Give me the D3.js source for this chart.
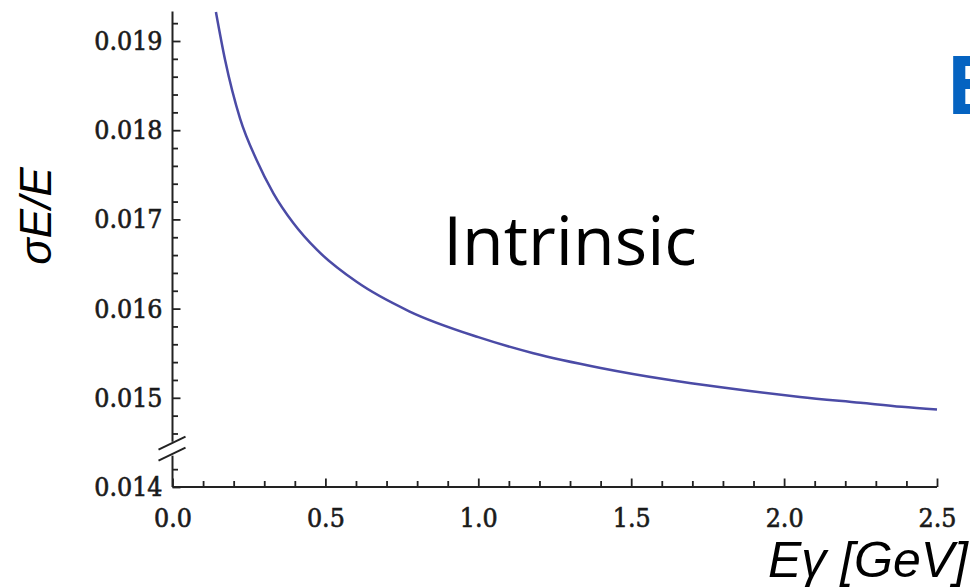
<!DOCTYPE html>
<html>
<head>
<meta charset="utf-8">
<script src="https://cdn.jsdelivr.net/npm/d3@7"></script>
<style>
  html, body { margin: 0; padding: 0; background: #fff; }
  svg { display: block; }
</style>
</head>
<body>
<div id="chart"></div>
<script>
// values
const energy = [0.142, 0.172, 0.221, 0.275, 0.330, 0.395, 0.472, 0.602, 0.774, 1.0, 1.18, 1.4, 1.616, 1.8, 2.052, 2.25, 2.385, 2.5];
const resolution = [0.019326, 0.018787, 0.018130, 0.017666, 0.017293, 0.016960, 0.016660, 0.016300, 0.015970, 0.015680, 0.015500, 0.015335, 0.015205, 0.015115, 0.015010, 0.014945, 0.014900, 0.014870];

const xTicks = [0.0, 0.5, 1.0, 1.5, 2.0, 2.5];
const yTicks = [0.014, 0.015, 0.016, 0.017, 0.018, 0.019];
const xLabel = "Eγ [GeV]";
const yLabel = "σE/E";
const note = "Intrinsic";
const yTop = 0.01933;
const yBreak = 0.01443;

const width = 970;
const height = 587;

const svg = d3.select("#chart")
  .append("svg")
  .attr("width", width)
  .attr("height", height);

const x = d3.scaleLinear().domain([0, 2.5]).range([172.5, 937]);
const y = d3.scaleLinear().domain([0.014, 0.019]).range([487, 41]);

const axisColor = "#222";
const tickFont = "'DejaVu Serif Condensed', 'DejaVu Serif', serif";

// minor ticks every 0.1 / 0.0002
const xMinor = d3.range(0, 2.5001, 0.1).filter(v => Math.abs(v * 2 - Math.round(v * 2)) > 1e-6);
const yMinor = d3.range(0.014, yTop, 0.0002)
  .filter(v => Math.abs(v * 1000 - Math.round(v * 1000)) > 1e-6)
  .filter(v => Math.abs(v - 0.0144) > 1e-7);

// x axis
const gx = svg.append("g")
  .attr("transform", `translate(0,${y(0.014)})`)
  .call(d3.axisBottom(x).tickValues(xTicks).tickSize(-8.5).tickPadding(21).tickFormat(d3.format(".1f")));
gx.append("g")
  .call(d3.axisBottom(x).tickValues(xMinor).tickSize(-6).tickFormat(""));

// y axis
const gy = svg.append("g")
  .attr("transform", `translate(${x(0)},0)`)
  .call(d3.axisLeft(y).tickValues(yTicks).tickSize(-8).tickPadding(10).tickFormat(d3.format(".3f")));
gy.append("g")
  .call(d3.axisLeft(y).tickValues(yMinor).tickSize(-5.5).tickFormat(""));

svg.selectAll(".domain").remove();
svg.selectAll(".tick line").attr("stroke", axisColor).attr("stroke-width", 1.8);
svg.selectAll(".tick text")
  .attr("fill", "#1a1a1a")
  .attr("font-family", tickFont)
  .attr("font-stretch", "condensed")
  .attr("font-size", 26.5)
  .attr("stroke", "#1a1a1a")
  .attr("stroke-width", 0.6);

// axis lines
svg.append("line")
  .attr("x1", x(0)).attr("x2", x(2.5))
  .attr("y1", y(0.014)).attr("y2", y(0.014))
  .attr("stroke", axisColor).attr("stroke-width", 2);

const by = y(yBreak);
svg.append("line")
  .attr("x1", x(0)).attr("x2", x(0))
  .attr("y1", y(yTop)).attr("y2", by - 7)
  .attr("stroke", axisColor).attr("stroke-width", 2);
svg.append("line")
  .attr("x1", x(0)).attr("x2", x(0))
  .attr("y1", by + 7).attr("y2", y(0.014))
  .attr("stroke", axisColor).attr("stroke-width", 2);

// break marks
[-5.5, 5.5].forEach(off => {
  svg.append("line")
    .attr("x1", x(0) - 14).attr("y1", by + off + 6.5)
    .attr("x2", x(0) + 13).attr("y2", by + off - 6.5)
    .attr("stroke", axisColor).attr("stroke-width", 2);
});

// curve
const pts = energy.map((e, i) => [e, resolution[i]]);
svg.append("path")
  .datum(pts)
  .attr("fill", "none")
  .attr("stroke", "#4b4ba6")
  .attr("stroke-width", 2.5)
  .attr("d", d3.line().x(d => x(d[0])).y(d => y(d[1])).curve(d3.curveMonotoneX));

// labels
svg.append("text")
  .attr("transform", "translate(51,216) rotate(-90)")
  .attr("text-anchor", "middle")
  .attr("font-family", "'Liberation Sans', Arial, sans-serif")
  .attr("font-style", "italic")
  .attr("font-size", 44)
  .attr("fill", "#000")
  .text(yLabel);

svg.append("text")
  .attr("x", 968)
  .attr("y", 577)
  .attr("text-anchor", "end")
  .attr("font-family", "'Liberation Sans', Arial, sans-serif")
  .attr("font-style", "italic")
  .attr("font-size", 50)
  .attr("fill", "#000")
  .text(xLabel);

svg.append("text")
  .attr("x", 570)
  .attr("y", 265)
  .attr("text-anchor", "middle")
  .attr("font-family", "'Open Sans', sans-serif")
  .attr("font-size", 68)
  .attr("fill", "#000")
  .text(note);

// blue heading letter cut off at the right edge
svg.append("text")
  .attr("x", 946)
  .attr("y", 114)
  .attr("font-family", "'Open Sans', sans-serif")
  .attr("font-weight", "bold")
  .attr("font-size", 80)
  .attr("fill", "#0563c1")
  .text("E");
</script>
</body>
</html>
